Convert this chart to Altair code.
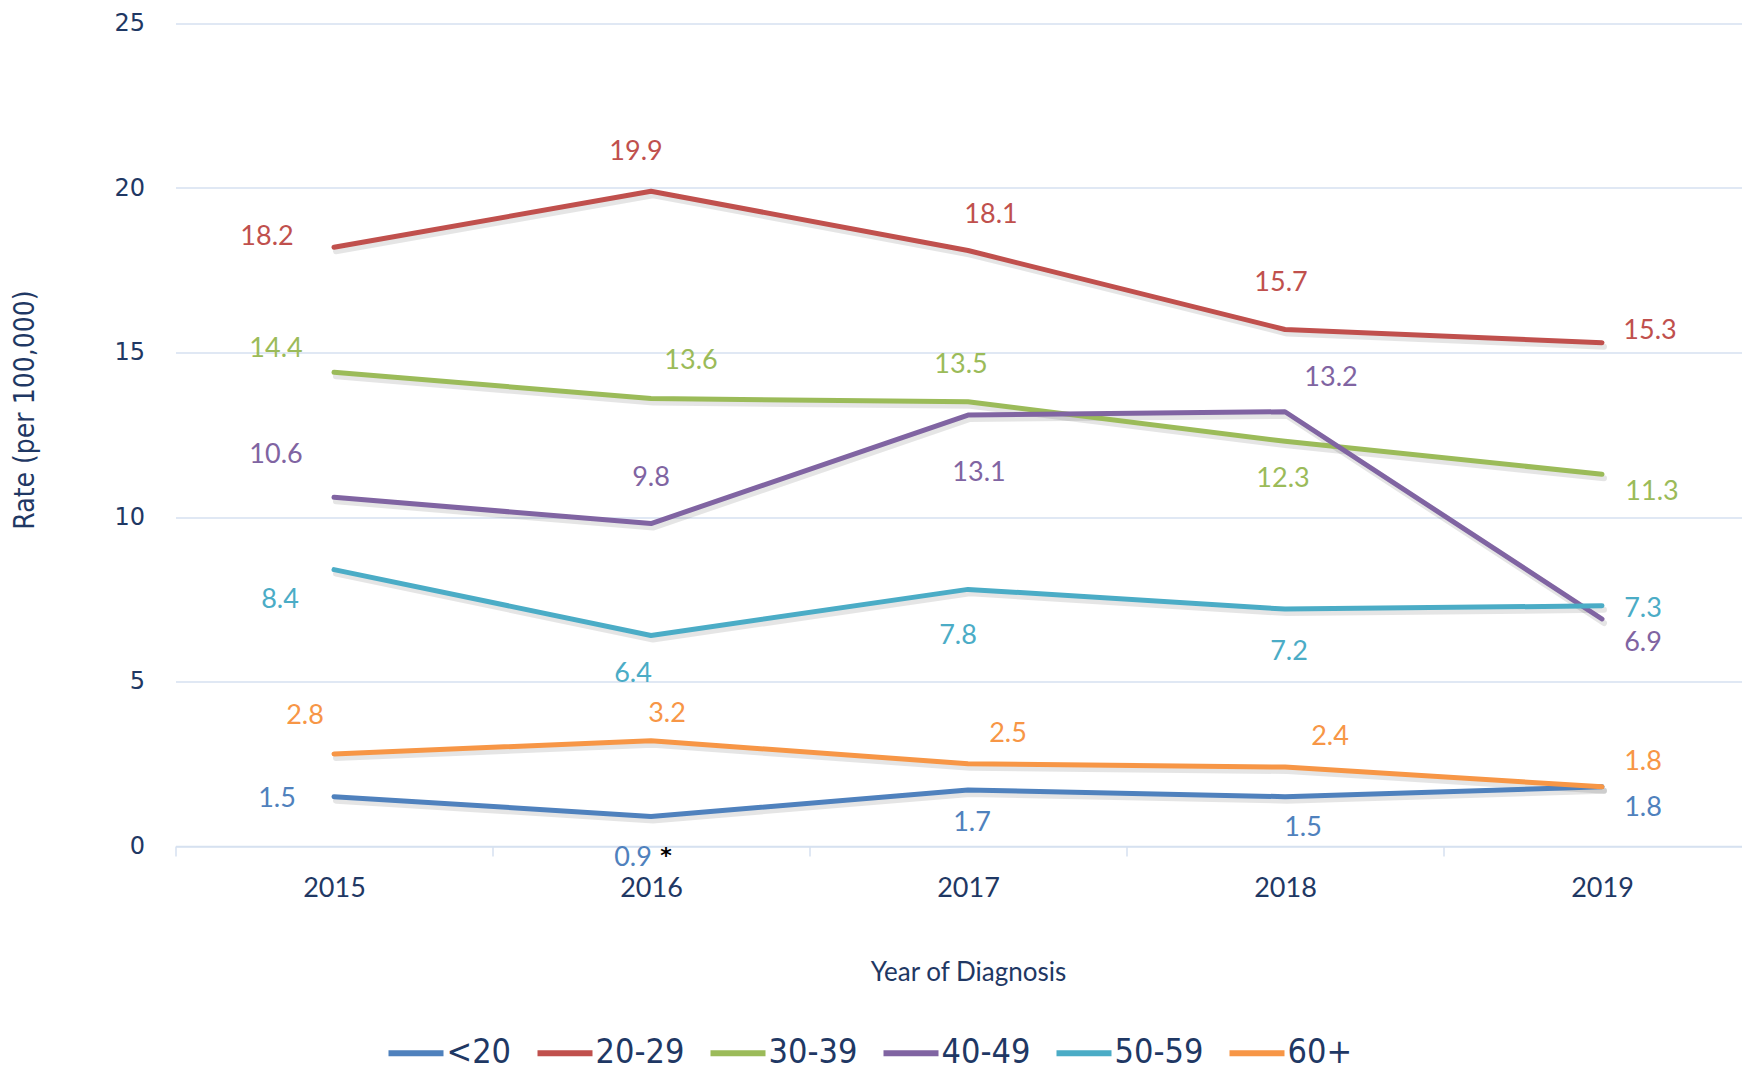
import altair as alt
import pandas as pd

# ---------------- data ----------------
years = ["2015", "2016", "2017", "2018", "2019"]
series = ["<20", "20-29", "30-39", "40-49", "50-59", "60+"]
v_lt20 = [1.5, 0.9, 1.7, 1.5, 1.8]
v_20_29 = [18.2, 19.9, 18.1, 15.7, 15.3]
v_30_39 = [14.4, 13.6, 13.5, 12.3, 11.3]
v_40_49 = [10.6, 9.8, 13.1, 13.2, 6.9]
v_50_59 = [8.4, 6.4, 7.8, 7.2, 7.3]
v_60p = [2.8, 3.2, 2.5, 2.4, 1.8]
y_ticks = [0, 5, 10, 15, 20, 25]
flag_series = "<20"
flag_year = "2016"
flag_text = "*"

values = {
    "<20": v_lt20, "20-29": v_20_29, "30-39": v_30_39,
    "40-49": v_40_49, "50-59": v_50_59, "60+": v_60p,
}

# ---------------- styling ----------------
colors = ["#4F81BD", "#C0504D", "#9BBB59", "#8064A2", "#4BACC6", "#F79646"]
TEXT = "#1F3864"
GRID = "#D6E1F0"

# label placement (pixel offsets of each data label from its point)
label_offsets = {
    "<20":   [(-57, -1), (-18, 39), (4, 30), (18, 28), (41, 18)],
    "20-29": [(-67, -13), (-15, -42), (23, -39), (-4, -49), (48, -15)],
    "30-39": [(-58, -26), (40, -41), (-7, -40), (-2, 35), (50, 15)],
    "40-49": [(-58, -45), (0, -49), (11, 55), (46, -37), (41, 21)],
    "50-59": [(-54, 27), (-18, 36), (-10, 44), (4, 40), (41, 0)],
    "60+":   [(-29, -41), (16, -30), (40, -33), (45, -33), (41, -28)],
}
LABEL_DY_SHIFT = 3

rows = []
for s in series:
    for y, v in zip(years, values[s]):
        rows.append({"series": s, "year": y, "rate": v})
df = pd.DataFrame(rows)

STEP = 317
x_scale = alt.Scale(type="band", domain=years, paddingInner=0, paddingOuter=0,
                    range=[0, STEP * len(years)])
y_scale = alt.Scale(domain=[0, 25], nice=False)
color_scale = alt.Scale(domain=series, range=colors)

x_enc = alt.X(
    "year:O", scale=x_scale, bandPosition=0.5,
    axis=alt.Axis(
        title="Year of Diagnosis", tickBand="extent", grid=False,
        domainColor=GRID, domainWidth=1.5, tickColor=GRID, tickWidth=1.5,
        tickSize=10, labelPadding=19, labelFont="Lato", labelFontSize=27,
        labelColor=TEXT, labelAngle=0, titleFont="Lato", titleFontSize=26,
        titleFontWeight="normal", titleColor=TEXT, titleY=126,
        titleX=STEP * len(years) / 2, titleBaseline="middle",
        titleAlign="center",
    ),
)
y_enc = alt.Y(
    "rate:Q", scale=y_scale,
    axis=alt.Axis(
        title="Rate (per 100,000)", values=y_ticks, grid=True,
        gridColor=GRID, gridWidth=1.5, domain=False, ticks=False,
        labelFont="DejaVu Sans", labelFontSize=24, labelColor=TEXT,
        labelPadding=31, titleFont="DejaVu Sans Condensed",
        titleFontSize=28, titleFontWeight="normal", titleColor=TEXT,
        titleX=-150, titleY=386, titleAngle=-90, titleAlign="center",
        titleBaseline="middle",
    ),
)

base = alt.Chart(df)

shadow = base.mark_line(
    strokeWidth=6, strokeCap="round", strokeJoin="round",
    color="#000000", opacity=0.1, xOffset=2, yOffset=4,
).encode(x=x_enc, y=y_enc, detail="series:N")

lines = base.mark_line(
    strokeWidth=5, strokeCap="round", strokeJoin="round"
).encode(
    x=x_enc, y=y_enc,
    color=alt.Color(
        "series:N", scale=color_scale, sort=series,
        legend=alt.Legend(
            title=None, orient="none", direction="horizontal",
            legendX=210, legendY=999, symbolType="stroke",
            symbolStrokeWidth=6, symbolSize=3025,
            labelFont="DejaVu Sans Condensed",
            labelFontSize=34, labelColor=TEXT, labelOffset=0,
            columnPadding=14, symbolOpacity=1, padding=0,
            rowPadding=0,
        ),
    ),
)

layers = [shadow, lines]
for s, col in zip(series, colors):
    for i, y in enumerate(years):
        dx, dy = label_offsets[s][i]
        layers.append(
            base.transform_filter(
                (alt.datum.series == s) & (alt.datum.year == y)
            ).mark_text(
                font="Lato", fontSize=27, color=col, dx=dx,
                dy=dy + LABEL_DY_SHIFT, align="center", baseline="middle",
            ).encode(
                x=alt.X("year:O", scale=x_scale, bandPosition=0.5),
                y=alt.Y("rate:Q", scale=y_scale),
                text=alt.Text("rate:Q", format=".1f"),
            )
        )

flag = base.transform_filter(
    (alt.datum.series == flag_series) & (alt.datum.year == flag_year)
).mark_text(
    font="DejaVu Sans", fontSize=22, fontWeight="bold", color="#000000",
    dx=15, dy=40, align="center", baseline="middle",
).encode(
    x=alt.X("year:O", scale=x_scale, bandPosition=0.5),
    y=alt.Y("rate:Q", scale=y_scale),
    text=alt.value(flag_text),
)
layers.append(flag)

chart = alt.layer(*layers).properties(
    width=1566, height=822.5, background="white",
    autosize=alt.AutoSizeParams(type="none"),
    padding={"left": 167.5, "top": 15.5, "right": 0, "bottom": 226},
).configure_view(stroke=None)

chart.save("out.html", embed_options={"renderer": "svg", "actions": False})
